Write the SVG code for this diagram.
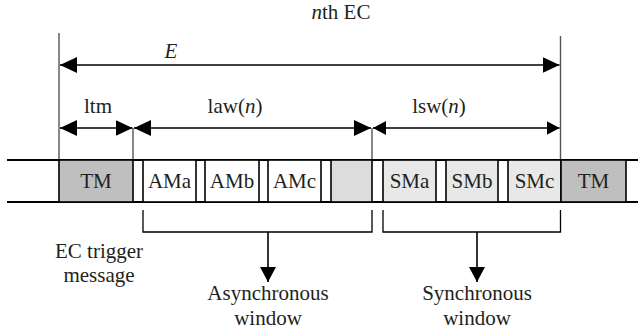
<svg xmlns="http://www.w3.org/2000/svg" width="638" height="335" viewBox="0 0 638 335">
<style>
text{font-family:"Liberation Serif","DejaVu Serif",serif;font-size:21px;fill:#231f20;text-anchor:middle}
.it{font-style:italic}
.bus{stroke:#000;stroke-width:2.2;fill:none}
.box{stroke:#000;stroke-width:1.6}
.tm{fill:#bfbfbf}
.am{fill:#fff}
.gap{fill:#dcdcdc}
.sm{fill:#e8e8e8}
.dim{stroke:#000;stroke-width:1.6;fill:none}
.ext{stroke:#555;stroke-width:1.4;fill:none}
.br{stroke:#000;stroke-width:1.3;fill:none}
</style>
<defs>
<marker id="ah" markerUnits="userSpaceOnUse" markerWidth="17" markerHeight="16" refX="17" refY="8" orient="auto-start-reverse">
<path d="M0,0 L17,8 L0,16 z" fill="#000"/>
</marker>
<marker id="ahs" markerUnits="userSpaceOnUse" markerWidth="13" markerHeight="14" refX="13" refY="7" orient="auto-start-reverse">
<path d="M0,0 L13,7 L0,14 z" fill="#000"/>
</marker>
<marker id="ad" markerUnits="userSpaceOnUse" markerWidth="15" markerHeight="16" refX="15" refY="8" orient="auto">
<path d="M0,0 L15,8 L0,16 z" fill="#000"/>
</marker>
</defs>

<g id="title"><text x="341" y="19"><tspan class="it">n</tspan>th EC</text></g>

<g id="connectors">
<line class="ext" x1="59" y1="33" x2="59" y2="160"/>
<line class="ext" x1="560.5" y1="36" x2="560.5" y2="160"/>
<line class="ext" x1="133" y1="128" x2="133" y2="160"/>
<line class="ext" x1="372" y1="128" x2="372" y2="160"/>
<line class="dim" x1="60" y1="65" x2="559.5" y2="65" marker-start="url(#ah)" marker-end="url(#ah)"/>
<line class="dim" x1="60" y1="128" x2="132.5" y2="128" marker-start="url(#ah)" marker-end="url(#ah)"/>
<line class="dim" x1="134" y1="128" x2="371" y2="128" marker-start="url(#ah)" marker-end="url(#ah)"/>
<line class="dim" x1="373" y1="128" x2="559.5" y2="128" marker-start="url(#ahs)" marker-end="url(#ahs)"/>
<path class="br" d="M143,210 V232 H372 V210"/>
<path class="br" d="M383,210 V232 H560.5 V210"/>
<line class="dim" x1="268" y1="232" x2="268" y2="282" marker-end="url(#ad)"/>
<line class="dim" x1="477" y1="232" x2="477" y2="282" marker-end="url(#ad)"/>
</g>

<g id="labels">
<text x="171" y="58" class="it">E</text>
<text x="98" y="113">ltm</text>
<text x="235" y="113">law(<tspan class="it">n</tspan>)</text>
<text x="439" y="113">lsw(<tspan class="it">n</tspan>)</text>
</g>

<g id="bus">
<line class="bus" x1="7" y1="160" x2="638" y2="160"/>
<line class="bus" x1="7" y1="202" x2="638" y2="202"/>
</g>

<g id="tm1"><rect class="box tm" x="59" y="160" width="74" height="42"/><text x="96" y="188">TM</text></g>
<g id="ama"><rect class="box am" x="143" y="160" width="53" height="42"/><text x="169.5" y="188">AMa</text></g>
<g id="amb"><rect class="box am" x="205" y="160" width="54" height="42"/><text x="232" y="188">AMb</text></g>
<g id="amc"><rect class="box am" x="268" y="160" width="53" height="42"/><text x="294.5" y="188">AMc</text></g>
<g id="blank"><rect class="box gap" x="331" y="160" width="41" height="42"/></g>
<g id="sma"><rect class="box sm" x="383" y="160" width="53" height="42"/><text x="409.5" y="188">SMa</text></g>
<g id="smb"><rect class="box sm" x="446" y="160" width="52" height="42"/><text x="472" y="188">SMb</text></g>
<g id="smc"><rect class="box sm" x="508" y="160" width="53" height="42"/><text x="534.5" y="188">SMc</text></g>
<g id="tm2"><rect class="box tm" x="561" y="160" width="65" height="42"/><text x="593.5" y="188">TM</text></g>

<g id="ectrigger"><text x="99" y="258">EC trigger</text><text x="99" y="282">message</text></g>
<g id="async"><text x="268" y="300">Asynchronous</text><text x="268" y="325">window</text></g>
<g id="sync"><text x="477" y="300">Synchronous</text><text x="477" y="325">window</text></g>
</svg>
